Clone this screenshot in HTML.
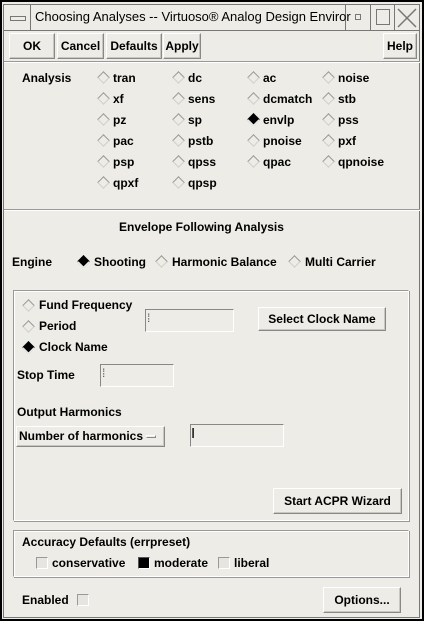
<!DOCTYPE html>
<html><head><meta charset="utf-8"><style>
*{margin:0;padding:0;box-sizing:border-box}
body{width:424px;height:621px;background:#edece6;font-family:"Liberation Sans",sans-serif;font-size:12px;font-weight:bold;color:#000;position:relative;overflow:hidden}
.a{position:absolute;white-space:nowrap;line-height:14px}
.d{position:absolute;width:9px;height:9px;transform:rotate(45deg);border:1px solid;border-color:#9a9a94 #d0d0ca #d0d0ca #9a9a94;background:#edece6}
.d.f{background:#000;border-color:#000 #fff #fff #000}
.b{position:absolute;border:1px solid;border-color:#fff #888 #888 #fff;background:#edece6;text-align:center;line-height:22px;box-shadow:inset -1px -1px 0 #c8c7c0}
.t{position:absolute;border:1px solid;border-color:#888 #fff #fff #888}
.g{position:absolute;border:1px solid;border-color:#999 #fff #fff #999;box-shadow:inset 1px 1px 0 #fff,1px 1px 0 #999}
.c{position:absolute;width:12px;height:12px;border:1px solid;border-color:#999 #fff #fff #999;background:#e6e5df}
.h{position:absolute;left:4px;width:416px;height:2px;border-top:1px solid #999;border-bottom:1px solid #fff}
.tt{font-weight:normal;font-size:13px}
</style></head><body>
<div style="position:absolute;left:0;top:0;width:424px;height:621px;border:2px solid #000"></div>
<div style="position:absolute;left:3px;top:4px;width:417px;height:614px;border:1px solid #777"></div>
<!-- title bar -->
<div style="position:absolute;left:4px;top:4px;width:416px;height:27px;border-bottom:1px solid #777"></div>
<div style="position:absolute;left:30px;top:4px;width:1px;height:27px;background:#777"></div>
<div style="position:absolute;left:345px;top:4px;width:1px;height:27px;background:#777"></div>
<div style="position:absolute;left:370px;top:4px;width:1px;height:27px;background:#777"></div>
<div style="position:absolute;left:394px;top:4px;width:1px;height:27px;background:#777"></div>
<div style="position:absolute;left:10px;top:16px;width:16px;height:5px;border:1px solid #777"></div>
<div class="a tt" style="left:35px;top:10px">Choosing Analyses -- Virtuoso® Analog Design Enviror</div>
<div style="position:absolute;left:355px;top:14px;width:6px;height:6px;border:1px solid #777"></div>
<div style="position:absolute;left:376px;top:9px;width:14px;height:16px;border:1px solid #777"></div>
<svg style="position:absolute;left:397px;top:8px" width="20" height="20"><path d="M1 1L19 19M19 1L1 19" stroke="#777" stroke-width="1.5"/></svg>
<!-- buttons -->
<div class="b" style="left:9px;top:33px;width:46px;height:26px;line-height:24px">OK</div>
<div class="b" style="left:57px;top:33px;width:47px;height:26px;line-height:24px">Cancel</div>
<div class="b" style="left:106px;top:33px;width:56px;height:26px;line-height:24px">Defaults</div>
<div class="b" style="left:163px;top:33px;width:38px;height:26px;line-height:24px">Apply</div>
<div class="b" style="left:383px;top:33px;width:34px;height:26px;line-height:24px">Help</div>
<div class="h" style="top:61px"></div>
<!-- analysis -->
<div class="a" style="left:22px;top:71px">Analysis</div>
<div class="d" style="left:99px;top:73px"></div><div class="a" style="left:113px;top:71px">tran</div>
<div class="d" style="left:174px;top:73px"></div><div class="a" style="left:188px;top:71px">dc</div>
<div class="d" style="left:249px;top:73px"></div><div class="a" style="left:263px;top:71px">ac</div>
<div class="d" style="left:324px;top:73px"></div><div class="a" style="left:338px;top:71px">noise</div>
<div class="d" style="left:99px;top:94px"></div><div class="a" style="left:113px;top:92px">xf</div>
<div class="d" style="left:174px;top:94px"></div><div class="a" style="left:188px;top:92px">sens</div>
<div class="d" style="left:249px;top:94px"></div><div class="a" style="left:263px;top:92px">dcmatch</div>
<div class="d" style="left:324px;top:94px"></div><div class="a" style="left:338px;top:92px">stb</div>
<div class="d" style="left:99px;top:115px"></div><div class="a" style="left:113px;top:113px">pz</div>
<div class="d" style="left:174px;top:115px"></div><div class="a" style="left:188px;top:113px">sp</div>
<div class="d f" style="left:249px;top:115px"></div><div class="a" style="left:263px;top:113px">envlp</div>
<div class="d" style="left:324px;top:115px"></div><div class="a" style="left:338px;top:113px">pss</div>
<div class="d" style="left:99px;top:136px"></div><div class="a" style="left:113px;top:134px">pac</div>
<div class="d" style="left:174px;top:136px"></div><div class="a" style="left:188px;top:134px">pstb</div>
<div class="d" style="left:249px;top:136px"></div><div class="a" style="left:263px;top:134px">pnoise</div>
<div class="d" style="left:324px;top:136px"></div><div class="a" style="left:338px;top:134px">pxf</div>
<div class="d" style="left:99px;top:157px"></div><div class="a" style="left:113px;top:155px">psp</div>
<div class="d" style="left:174px;top:157px"></div><div class="a" style="left:188px;top:155px">qpss</div>
<div class="d" style="left:249px;top:157px"></div><div class="a" style="left:263px;top:155px">qpac</div>
<div class="d" style="left:324px;top:157px"></div><div class="a" style="left:338px;top:155px">qpnoise</div>
<div class="d" style="left:99px;top:178px"></div><div class="a" style="left:113px;top:176px">qpxf</div>
<div class="d" style="left:174px;top:178px"></div><div class="a" style="left:188px;top:176px">qpsp</div>
<div class="h" style="top:209px"></div>
<div class="a" style="left:119px;top:220px">Envelope Following Analysis</div>
<div class="a" style="left:12px;top:255px">Engine</div>
<div class="d f" style="left:79px;top:257px"></div><div class="a" style="left:94px;top:255px">Shooting</div>
<div class="d" style="left:157px;top:257px"></div><div class="a" style="left:172px;top:255px">Harmonic Balance</div>
<div class="d" style="left:290px;top:257px"></div><div class="a" style="left:305px;top:255px">Multi Carrier</div>
<!-- group -->
<div class="g" style="left:13px;top:290px;width:396px;height:231px"></div>
<div class="d" style="left:24px;top:301px"></div><div class="a" style="left:39px;top:298px">Fund Frequency</div>
<div class="d" style="left:24px;top:322px"></div><div class="a" style="left:39px;top:319px">Period</div>
<div class="d f" style="left:24px;top:343px"></div><div class="a" style="left:39px;top:340px">Clock Name</div>
<div class="t" style="left:145px;top:309px;width:89px;height:23px"></div>
<div class="a" style="left:147px;top:311px;font-weight:normal;color:#555">⁞</div>
<div class="b" style="left:258px;top:307px;width:128px;height:24px">Select Clock Name</div>
<div class="a" style="left:17px;top:368px">Stop Time</div>
<div class="t" style="left:100px;top:364px;width:74px;height:23px"></div>
<div class="a" style="left:102px;top:366px;font-weight:normal;color:#555">⁞</div>
<div class="a" style="left:17px;top:405px">Output Harmonics</div>
<div class="b" style="left:16px;top:426px;width:149px;height:21px;line-height:19px;text-align:left;padding-left:2px">Number of harmonics <span style="display:inline-block;width:10px;height:3px;border:1px solid;border-color:#fff #888 #888 #fff;vertical-align:middle"></span></div>
<div class="t" style="left:190px;top:424px;width:94px;height:23px"></div>
<div class="a" style="left:191px;top:427px;font-weight:normal;font-size:15px">I</div>
<div class="b" style="left:273px;top:488px;width:129px;height:26px;line-height:24px">Start ACPR Wizard</div>
<!-- accuracy -->
<div class="g" style="left:13px;top:530px;width:396px;height:47px"></div>
<div class="a" style="left:22px;top:535px">Accuracy Defaults (errpreset)</div>
<div class="c" style="left:36px;top:557px"></div><div class="a" style="left:52px;top:556px">conservative</div>
<div class="c" style="left:138px;top:557px;background:#000;border-color:#555 #fff #fff #555"></div><div class="a" style="left:154px;top:556px">moderate</div>
<div class="c" style="left:218px;top:557px"></div><div class="a" style="left:234px;top:556px">liberal</div>
<div class="a" style="left:22px;top:593px">Enabled</div>
<div class="c" style="left:77px;top:594px"></div>
<div class="b" style="left:323px;top:587px;width:78px;height:26px;line-height:24px">Options...</div>
</body></html>
